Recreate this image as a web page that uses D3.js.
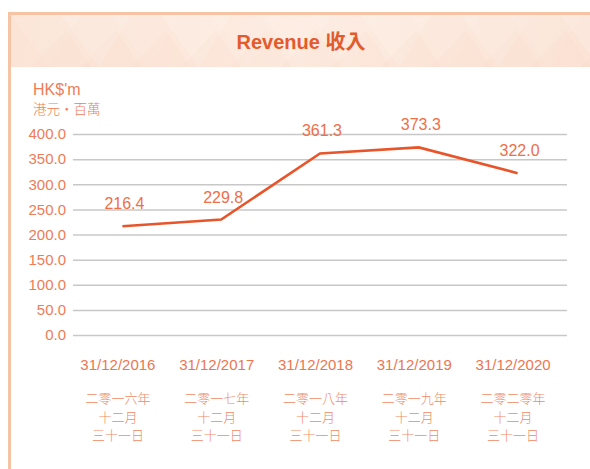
<!DOCTYPE html>
<html>
<head>
<meta charset="utf-8">
<script src="https://cdn.jsdelivr.net/npm/d3@7"></script>
<style>
  html, body { margin: 0; padding: 0; background: #fff; }
  svg { display: block; }
  text { font-family: "Liberation Sans", Arial, "Noto Sans CJK TC", sans-serif; }
  .zh { font-family: "Noto Sans CJK TC", "Noto Sans CJK SC", sans-serif; font-weight: 300; }
</style>
</head>
<body>
<div id="chart"></div>
<script>
// data
var dates = ["31/12/2016", "31/12/2017", "31/12/2018", "31/12/2019", "31/12/2020"];
var yearsZh = ["二零一六年", "二零一七年", "二零一八年", "二零一九年", "二零二零年"];
var monthZh = "十二月";
var dayZh = "三十一日";
var revenue = [216.4, 229.8, 361.3, 373.3, 322.0];
var yTicks = [0, 50, 100, 150, 200, 250, 300, 350, 400];

var width = 590, height = 469;
var plot = { left: 73, right: 567, top: 134, bottom: 335 };

var svg = d3.select("#chart")
  .append("svg")
  .attr("width", width)
  .attr("height", height);

svg.append("rect").attr("width", width).attr("height", height).attr("fill", "#fff");

// header band with soft facets
var header = svg.append("g");
header.append("clipPath").attr("id", "hclip")
  .append("rect").attr("x", 11).attr("y", 15).attr("width", width - 11).attr("height", 52);
var hg = svg.append("defs").append("linearGradient").attr("id", "hgrad")
  .attr("x1", "0").attr("x2", "1");
hg.append("stop").attr("offset", "0").attr("stop-color", "#fbe4d6");
hg.append("stop").attr("offset", "0.5").attr("stop-color", "#fdebe0");
hg.append("stop").attr("offset", "1").attr("stop-color", "#fbe4d6");
header.append("rect")
  .attr("x", 11).attr("y", 15).attr("width", width - 11).attr("height", 52)
  .attr("fill", "url(#hgrad)");
var facets = header.append("g").attr("clip-path", "url(#hclip)");
for (var i = 0; i < 12; i++) {
  var x0 = 11 + i * 50;
  facets.append("path")
    .attr("d", "M" + x0 + ",15 L" + (x0 + 38) + ",67 L" + (x0 + 70) + ",15 Z")
    .attr("fill", "#fff")
    .attr("opacity", i % 2 ? 0.14 : 0.08);
  facets.append("path")
    .attr("d", "M" + (x0 + 20) + ",67 L" + (x0 + 55) + ",30 L" + (x0 + 80) + ",67 Z")
    .attr("fill", "#f8d2bc")
    .attr("opacity", 0.1);
}

// frame
svg.append("path")
  .attr("d", "M9.5," + height + " L9.5,13.5 L" + width + ",13.5")
  .attr("fill", "none")
  .attr("stroke", "#f6c3a5")
  .attr("stroke-width", 3);

svg.append("text")
  .attr("x", 301).attr("y", 49)
  .attr("text-anchor", "middle")
  .attr("font-size", 20).attr("font-weight", "bold")
  .attr("fill", "#e35a2c")
  .text("Revenue 收入");

svg.append("text")
  .attr("x", 33).attr("y", 95)
  .attr("font-size", 16).attr("fill", "#ef7c56")
  .text("HK$'m");
svg.append("text")
  .attr("class", "zh")
  .attr("x", 33).attr("y", 114)
  .attr("font-size", 13.5).attr("fill", "#ef7c56")
  .text("港元‧百萬");

// scales
var x = d3.scaleBand().domain(dates).range([plot.left, plot.right]).padding(0);
var y = d3.scaleLinear().domain([0, 400]).range([plot.bottom, plot.top]);
var cx = function (d) { return x(d) + x.bandwidth() / 2; };

// y axis + grid
var yAxis = svg.append("g")
  .attr("transform", "translate(" + plot.left + ",0)")
  .call(d3.axisLeft(y)
    .tickValues(yTicks)
    .tickSize(-(plot.right - plot.left))
    .tickPadding(7)
    .tickFormat(d3.format(".1f")));
yAxis.select(".domain").remove();
yAxis.selectAll(".tick line").attr("stroke", "#c8c8c8").attr("stroke-width", 1.5);
yAxis.selectAll(".tick text")
  .attr("font-size", 15)
  .attr("fill", "#ef7c56")
  .style("font-family", "'Liberation Sans', Arial, sans-serif");

// line
var line = d3.line()
  .x(function (d, i) { return cx(dates[i]); })
  .y(function (d) { return y(d); });

svg.append("path")
  .datum(revenue)
  .attr("d", line)
  .attr("fill", "none")
  .attr("stroke", "#e8552a")
  .attr("stroke-width", 2.6);

// value labels
svg.selectAll(".val")
  .data(revenue)
  .enter()
  .append("text")
  .attr("class", "val")
  .attr("x", function (d, i) { return cx(dates[i]) + 2; })
  .attr("y", function (d) { return y(d) - 17; })
  .attr("text-anchor", "middle")
  .attr("font-size", 16)
  .attr("fill", "#ee6f49")
  .text(function (d) { return d.toFixed(1); });

// x labels
var xl = svg.selectAll(".xl")
  .data(dates)
  .enter()
  .append("g")
  .attr("class", "xl")
  .attr("transform", function (d) { return "translate(" + (cx(d) - 4.5) + ",0)"; });

xl.append("text")
  .attr("y", 370)
  .attr("text-anchor", "middle")
  .attr("font-size", 15)
  .attr("fill", "#ee7550")
  .text(function (d) { return d; });

xl.append("text")
  .attr("class", "zh")
  .attr("text-anchor", "middle")
  .attr("font-size", 13)
  .attr("fill", "#f08a66")
  .selectAll("tspan")
  .data(function (d, i) { return [yearsZh[i], monthZh, dayZh]; })
  .enter()
  .append("tspan")
  .attr("x", 0)
  .attr("y", function (d, i) { return 403 + i * 18.5; })
  .text(function (d) { return d; });
</script>
</body>
</html>
